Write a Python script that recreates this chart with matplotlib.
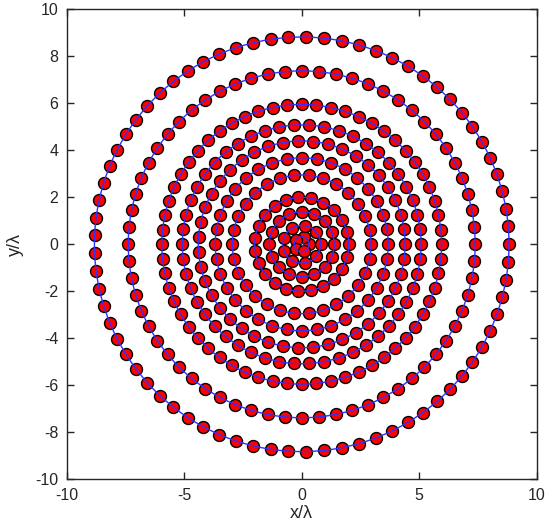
import numpy as np
import matplotlib
matplotlib.use("Agg")
import matplotlib.pyplot as plt

# ring radii (in wavelengths) and number of elements on each ring
ring_radius = [0.32, 0.80, 1.38, 2.00, 2.95, 3.68, 4.40, 5.08, 5.95, 7.38, 8.82]
ring_count = [5, 9, 16, 23, 30, 36, 43, 50, 60, 64, 73]

x_ticks = [-10, -5, 0, 5, 10]
y_ticks = [-10, -8, -6, -4, -2, 0, 2, 4, 6, 8, 10]

plt.rcParams['font.family'] = ['Liberation Sans', 'DejaVu Sans']

fig = plt.figure(figsize=(5.57, 5.25), dpi=100)
ax = fig.add_axes([0.1197, 0.0870, 0.8439, 0.8953])

theta_line = np.linspace(0, 2 * np.pi, 400)
for r, n in zip(ring_radius, ring_count):
    ang = 2 * np.pi * np.arange(n) / n
    ax.plot(r * np.cos(ang), r * np.sin(ang), 'o', ms=8.6, mfc='red',
            mec='black', mew=1.0, ls='none', zorder=2)
for r in ring_radius:
    ax.plot(r * np.cos(theta_line), r * np.sin(theta_line), '-',
            color='#3030ff', lw=1.0, zorder=3)
# tiny centre marker
ax.plot([0], [0], 'o', ms=2, mfc='none', mec='#3030ff', mew=0.6, zorder=3)

ax.set_xlim(-10, 10)
ax.set_ylim(-10, 10)
ax.set_xticks(x_ticks)
ax.set_yticks(y_ticks)
ax.set_xticklabels([str(v) for v in x_ticks])
ax.set_yticklabels([str(v) for v in y_ticks])
ax.tick_params(direction='in', top=True, right=True, length=5, width=1,
               labelsize=11.5, colors='#262626')
ax.tick_params(axis='y', pad=6)
ax.tick_params(axis='x', pad=6)
for s in ax.spines.values():
    s.set_color('#262626')
    s.set_linewidth(1.0)
ax.set_xlabel('x/λ', fontsize=13, color='#262626', labelpad=2)
ax.set_ylabel('y/λ', fontsize=13, color='#262626', labelpad=8)

fig.savefig('out.png', dpi=100)
